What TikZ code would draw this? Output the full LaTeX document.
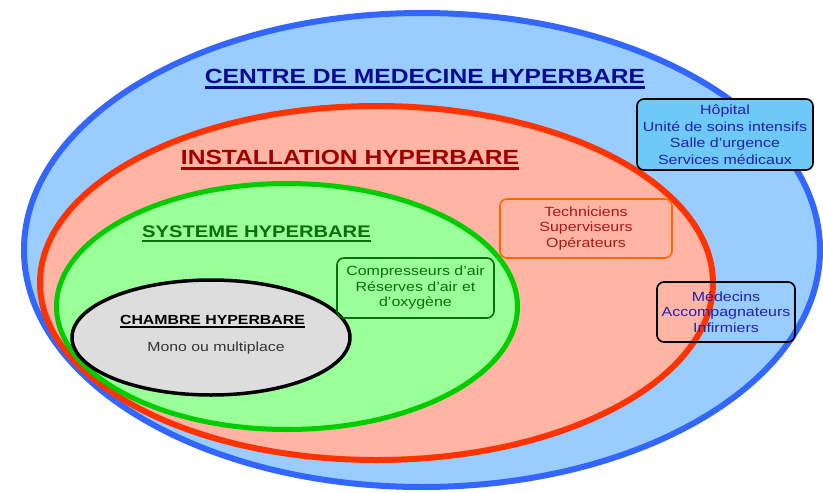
\documentclass[tikz,border=0pt]{standalone}
\usepackage{fontspec}
\setmainfont[FakeStretch=1.2]{Liberation Sans}
\usepackage{tikz}
\definecolor{cblue}{HTML}{3366FF}
\definecolor{cbluefill}{HTML}{99CCFF}
\definecolor{cred}{HTML}{FF3300}
\definecolor{credfill}{HTML}{FFB4A4}
\definecolor{cgreen}{HTML}{00CC00}
\definecolor{cgreenfill}{HTML}{99FF99}
\definecolor{cgrayfill}{HTML}{DDDDDD}
\definecolor{cnavy}{HTML}{0A0A8C}
\definecolor{cdarkred}{HTML}{9E0000}
\definecolor{cdarkgreen}{HTML}{0A6E0A}
\definecolor{corange}{HTML}{FF6600}
\definecolor{ccyan}{HTML}{6EC8F8}
\definecolor{ctext}{HTML}{2222A8}

\begin{document}
\begin{tikzpicture}[x=1pt,y=-1pt,line join=round,
  title node/.style={inner sep=0pt,text depth=0pt,anchor=base,font=\bfseries\fontsize{20.5}{24}\selectfont},
  box node/.style={draw,rounded corners=7pt,line width=1.6pt,align=center,inner sep=0pt,font=\fontsize{13.3}{15.5}\selectfont}]
  \useasboundingbox (0,0) rectangle (823,493);

  % the four zones
  \draw[cblue,fill=cbluefill,line width=6pt] (422,250) ellipse [x radius=398, y radius=237];
  \draw[cred,fill=credfill,line width=6pt] (376.5,283) ellipse [x radius=336.5, y radius=177];
  \draw[cgreen,fill=cgreenfill,line width=5pt] (287,306.5) ellipse [x radius=230.5, y radius=123];
  \draw[black,fill=cgrayfill,line width=3.5pt] (211,337.5) ellipse [x radius=139, y radius=57.5];

  % titles
  \node[title node,text=cnavy] (1) at (425,83) {CENTRE DE MEDECINE HYPERBARE};
  \node[title node,text=cdarkred] (2) at (350,164) {INSTALLATION HYPERBARE};
  \node[title node,text=cdarkgreen,font=\bfseries\fontsize{16.8}{20}\selectfont] (3) at (256.5,237) {SYSTEME HYPERBARE};
  \node[title node,font=\bfseries\fontsize{13.2}{16}\selectfont] (4) at (212.5,324) {CHAMBRE HYPERBARE};
  \foreach \n/\c/\w/\d in {1/cnavy/2.5pt/4.5pt, 2/cdarkred/2.5pt/4.5pt, 3/cdarkgreen/2pt/4pt, 4/black/1.5pt/3pt}
    \draw[\c,line width=\w] ([yshift=-\d]\n.south west) -- ([yshift=-\d]\n.south east);
  \node[anchor=base,inner sep=0pt,text=black!80,font=\fontsize{13.2}{16}\selectfont] (5) at (216,351) {Mono ou multiplace};

  % boxes
  \node[box node,fill=ccyan,text=ctext,minimum width=176,minimum height=71,font=\fontsize{13.3}{16.5}\selectfont] (6) at (725,134.5)
    {Hôpital\\Unité de soins intensifs\\Salle d’urgence\\Services médicaux};
  \node[box node,draw=corange,text=cdarkred!90!white,minimum width=172,minimum height=59] (7) at (586,228.5)
    {Techniciens\\Superviseurs\\Opérateurs};
  \node[box node,text=ctext,minimum width=138,minimum height=60] (8) at (726,312)
    {Médecins\\Accompagnateurs\\Infirmiers};
  \node[box node,draw=cdarkgreen,text=cdarkgreen,minimum width=157,minimum height=60] (9) at (415.5,288)
    {Compresseurs d’air\\Réserves d’air et\\d’oxygène};
\end{tikzpicture}
\end{document}
